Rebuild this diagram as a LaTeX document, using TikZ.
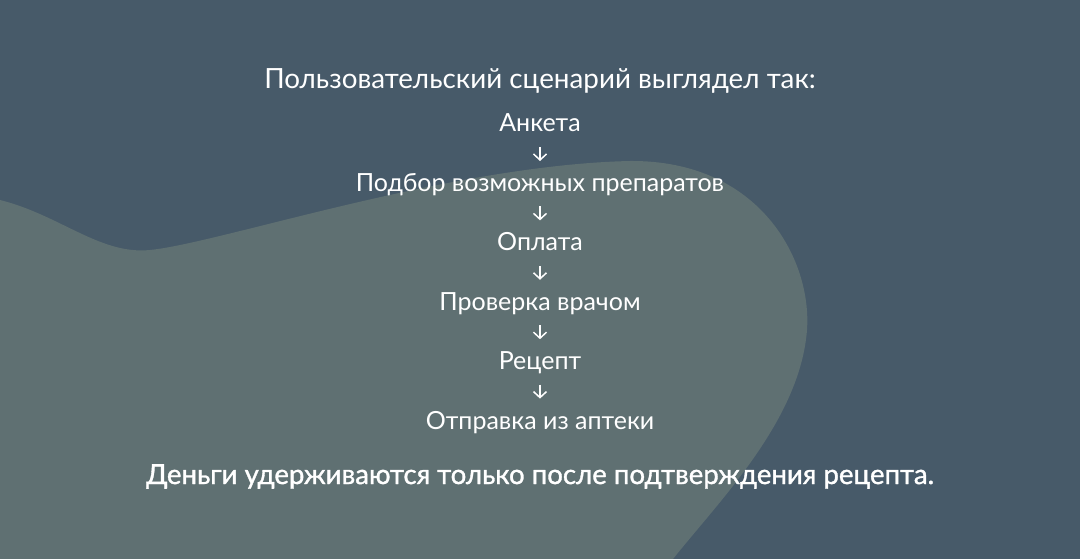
\documentclass[tikz,border=0pt]{standalone}
\usepackage{fontspec}
\setmainfont{Lato}
\newfontfamily\notefont[FakeBold=1.2]{Lato}
\usetikzlibrary{arrows.meta}
\definecolor{bgc}{HTML}{475A69}
\definecolor{blobc}{HTML}{5F7072}
\tikzset{
  ttl/.style={anchor=base, inner sep=0pt, text=white, font=\fontsize{27.8}{32}\selectfont},
  item/.style={anchor=base, inner sep=0pt, text=white, font=\fontsize{25}{28}\selectfont},
  note/.style={anchor=base, inner sep=0pt, text=white, font=\notefont\fontsize{27.6}{32}\selectfont},
  arr/.style={draw=white, line width=1.5pt, -{Straight Barb[length=6pt,width=13pt,line width=1.5pt]},
    shorten <=15pt, shorten >=30.4pt}
}
\begin{document}
\begin{tikzpicture}[x=1pt,y=-1pt]
\useasboundingbox (0,0) rectangle (1080,559);
\fill[bgc] (0,0) rectangle (1080,559);
\fill[blobc] (0,200) .. controls (60,215) and (100,255) .. (150,250)
  .. controls (220,243) and (450,165) .. (630,161)
  .. controls (760,160) and (812,260) .. (807,330)
  .. controls (800,420) and (720,500) .. (673,559)
  -- (0,559) -- cycle;
\node[ttl] (title) at (540,89) {Пользовательский сценарий выглядел так:};
\node[item] (s1) at (540,132) {Анкета};
\node[item] (s2) at (540,191.4) {Подбор возможных препаратов};
\node[item] (s3) at (540,250.8) {Оплата};
\node[item] (s4) at (540,310.2) {Проверка врачом};
\node[item] (s5) at (540,369.6) {Рецепт};
\node[item] (s6) at (540,429) {Отправка из аптеки};
\node[note] (note) at (540,484) {Деньги удерживаются только после подтверждения рецепта.};
\draw[arr] (s1.base) -- (s2.base);
\draw[arr] (s2.base) -- (s3.base);
\draw[arr] (s3.base) -- (s4.base);
\draw[arr] (s4.base) -- (s5.base);
\draw[arr] (s5.base) -- (s6.base);
\end{tikzpicture}
\end{document}
